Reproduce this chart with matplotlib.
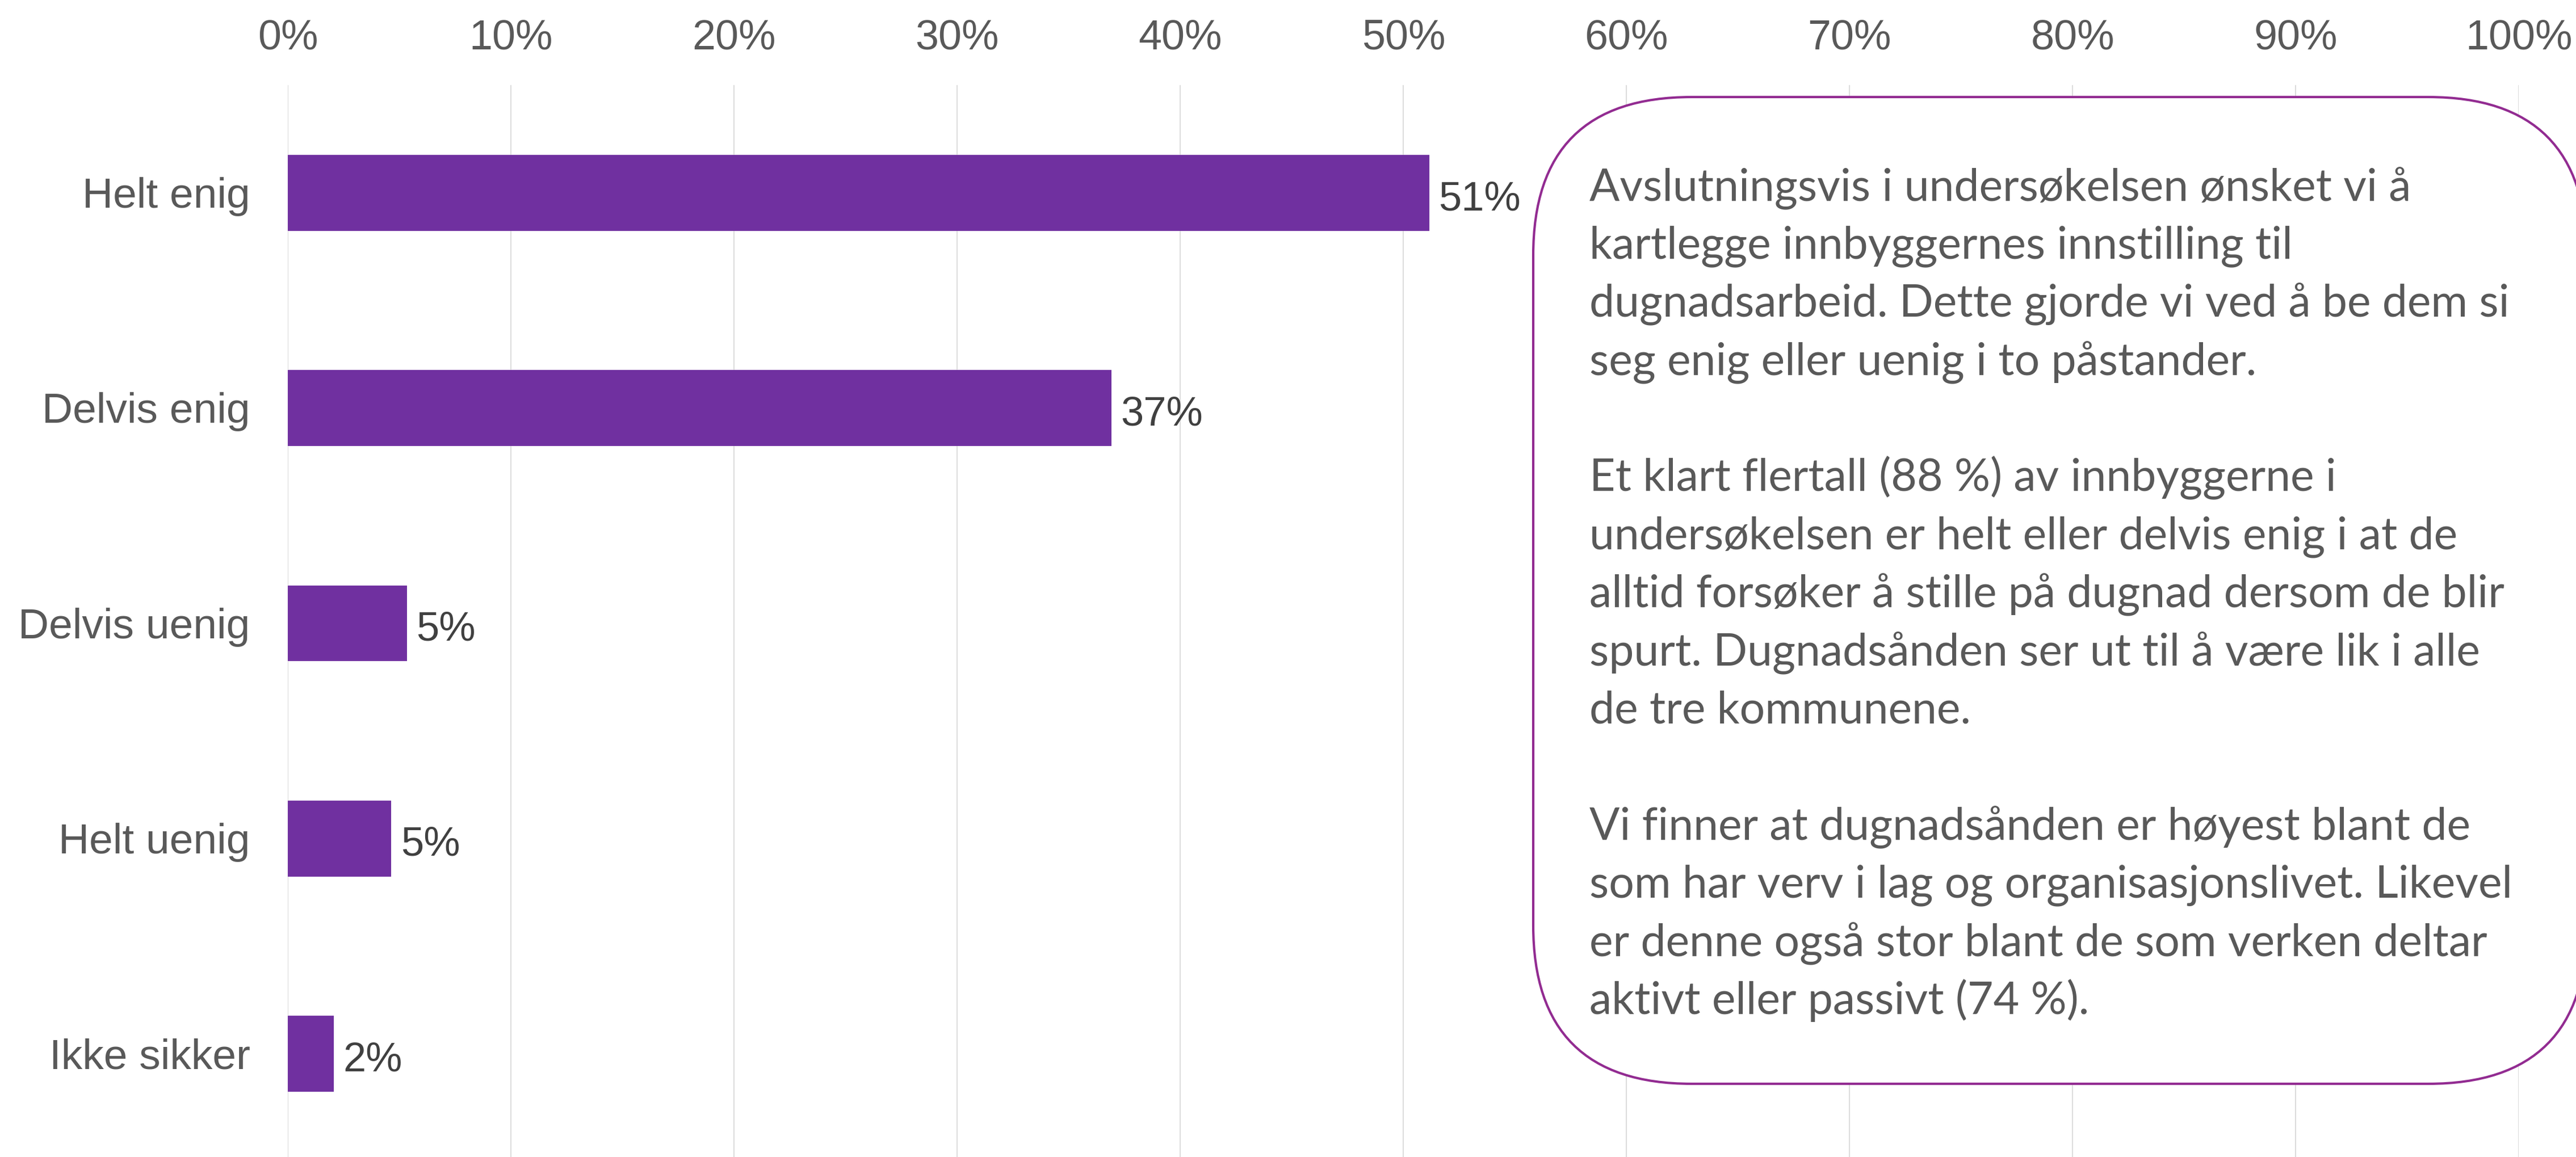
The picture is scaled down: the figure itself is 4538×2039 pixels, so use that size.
import matplotlib
matplotlib.use("Agg")
import matplotlib.pyplot as plt
from matplotlib.patches import FancyBboxPatch
from matplotlib.transforms import IdentityTransform

# ---- data ----
categories = ["Helt enig", "Delvis enig", "Delvis uenig", "Helt uenig", "Ikke sikker"]
values = [51.15, 36.9, 5.33, 4.62, 2.04]
value_labels = ["51%", "37%", "5%", "5%", "2%"]
xticks = [0, 10, 20, 30, 40, 50, 60, 70, 80, 90, 100]
xtick_labels = [f"{t}%" for t in xticks]

text_lines = [
    "Avslutningsvis i undersøkelsen ønsket vi å",
    "kartlegge innbyggernes innstilling til",
    "dugnadsarbeid. Dette gjorde vi ved å be dem si",
    "seg enig eller uenig i to påstander.",
    "",
    "Et klart flertall (88 %) av innbyggerne i",
    "undersøkelsen er helt eller delvis enig i at de",
    "alltid forsøker å stille på dugnad dersom de blir",
    "spurt. Dugnadsånden ser ut til å være lik i alle",
    "de tre kommunene.",
    "",
    "Vi finner at dugnadsånden er høyest blant de",
    "som har verv i lag og organisasjonslivet. Likevel",
    "er denne også stor blant de som verken deltar",
    "aktivt eller passivt (74 %).",
]

# ---- figure ----
W, H, DPI = 4538, 2040, 100
fig = plt.figure(figsize=(W / DPI, H / DPI), dpi=DPI)
fig.patch.set_facecolor("white")

BAR = "#7030A0"
GRID = "#D9D9D9"
LABEL = "#595959"
VAL = "#404040"
FONT = "Liberation Sans"

x0_px, x100_px = 507.4, 4437.4
top_px = 151.4
ax = fig.add_axes([x0_px / W, 0, (x100_px - x0_px) / W, (H - top_px) / H])
spacing = 379.25
ax.set_xlim(0, 100)
ax.set_ylim((H - 341) / spacing, -0.5)

ypos = list(range(len(categories)))
ax.barh(ypos, values, height=0.353, color=BAR, zorder=2)

ax.set_xticks(xticks)
ax.set_xticklabels([])
ax.set_yticks([])
ax.tick_params(length=0)
ax.grid(axis="x", color=GRID, linewidth=1.3, zorder=0)
ax.set_axisbelow(True)
for s in ax.spines.values():
    s.set_visible(False)

# top tick labels
for t, lab in zip(xticks, xtick_labels):
    ax.annotate(lab, xy=(t, 1), xycoords=("data", "axes fraction"),
                xytext=(0, 47), textcoords="offset points",
                ha="center", va="baseline", fontsize=53, color=LABEL,
                family=FONT, annotation_clip=False)

# category labels
for i, c in enumerate(categories):
    ax.annotate(c, xy=(0, i), xycoords="data", xytext=(-48, -18),
                textcoords="offset points", ha="right", va="baseline",
                fontsize=54, color=LABEL, family=FONT, annotation_clip=False)

# value labels
for i, (v, lab) in enumerate(zip(values, value_labels)):
    ax.annotate(lab, xy=(v, i), xycoords="data", xytext=(12, -21),
                textcoords="offset points", ha="left", va="baseline",
                fontsize=52, color=VAL, family=FONT, annotation_clip=False)

# rounded text box (pixel coordinates)
bx0, bx1 = 2701, 4557
by_top, by_bot = 172, 1911
box = FancyBboxPatch((bx0, H - by_bot), bx1 - bx0, by_bot - by_top,
                     boxstyle="round,pad=0,rounding_size=279",
                     transform=IdentityTransform(), facecolor="white",
                     edgecolor="#922B91", linewidth=3.0, zorder=5)
fig.add_artist(box)

# fit paragraph font size to reference line width
TFONT = ["Lato", "DejaVu Sans"]
renderer = fig.canvas.get_renderer()
probe = fig.text(0, 0, text_lines[2], fontsize=60, family=TFONT)
w = probe.get_window_extent(renderer).width
probe.remove()
tsize = 60 * 1623.0 / w

for k, line in enumerate(text_lines):
    if not line:
        continue
    base = 353 + 102.4 * k
    fig.text(2800 / W, 1 - base / H, line, fontsize=tsize, family=TFONT,
             color=LABEL, ha="left", va="baseline", zorder=6)

fig.savefig("out.png", dpi=DPI, facecolor="white")
